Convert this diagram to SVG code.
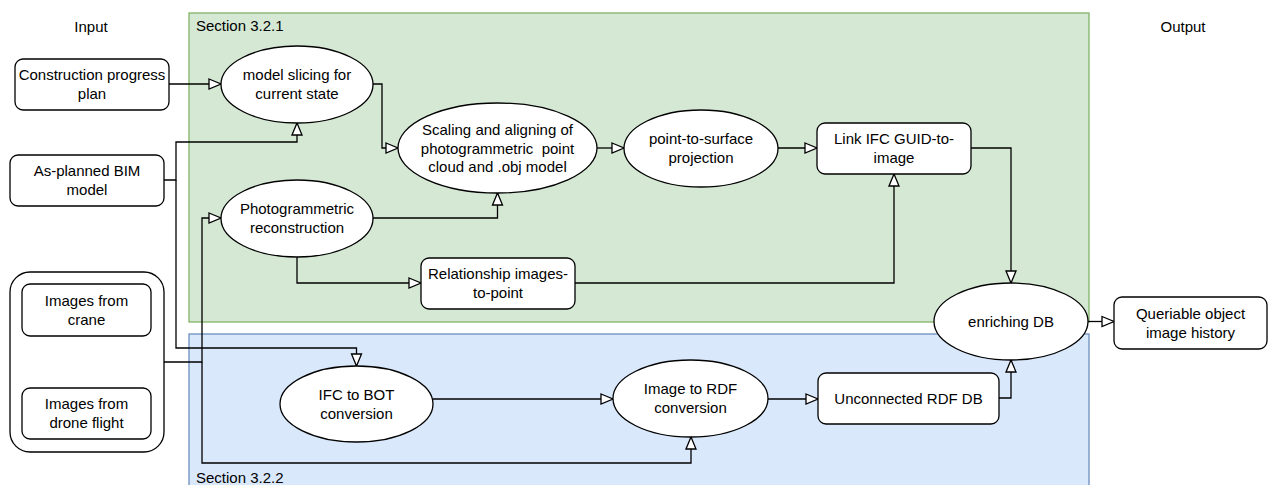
<svg xmlns="http://www.w3.org/2000/svg" width="1268" height="485" viewBox="0 0 1268 485">
<style>
text{font-family:"Liberation Sans",Arial,sans-serif;font-size:15px;fill:#000;text-anchor:middle}
.lbl{text-anchor:start}
.box{fill:#fff;stroke:#000;stroke-width:1.3}
.edge{fill:none;stroke:#000;stroke-width:1.3;marker-end:url(#arr)}
</style>
<defs>
<marker id="arr" markerUnits="userSpaceOnUse" markerWidth="16" markerHeight="14" refX="13" refY="6" orient="auto" viewBox="-1 -1 16 14">
<path d="M1,1 L13,6 L1,11 Z" fill="#fff" stroke="#000" stroke-width="1.3"/>
</marker>
</defs>
<rect width="1268" height="485" fill="#fff"/>
<g id="section321">
<rect x="189" y="13" width="900" height="309" fill="#d5e8d4" stroke="#82b366" stroke-width="1.3"/>
<text class="lbl" x="196" y="31">Section 3.2.1</text>
</g>
<g id="section322">
<rect x="189" y="334" width="900" height="160" fill="#dae8fc" stroke="#6c8ebf" stroke-width="1.3"/>
<text class="lbl" x="196" y="483">Section 3.2.2</text>
</g>
<text x="91" y="32">Input</text>
<text x="1183" y="32">Output</text>
<g id="connectors">
<path class="edge" d="M169,84 H221"/>
<path class="edge" d="M164,180 H176 V142 H297 V123"/>
<path class="edge" d="M176,180 V348 H356.5 V366"/>
<path class="edge" d="M164,362 H202 V218 H221"/>
<path class="edge" d="M202,362 V463 H691 V437"/>
<path class="edge" d="M373,84 H382 V148 H398"/>
<path class="edge" d="M373,218 H497.5 V193"/>
<path class="edge" d="M297,257 V283 H421"/>
<path class="edge" d="M597,148 H624"/>
<path class="edge" d="M778,148 H817"/>
<path class="edge" d="M575,283 H894 V174"/>
<path class="edge" d="M971,148 H1011 V283"/>
<path class="edge" d="M999,398 H1011 V360"/>
<path class="edge" d="M1088,321.5 H1114"/>
<path class="edge" d="M433,399 H613"/>
<path class="edge" d="M768,399 H818"/>
</g>
<g id="construction-plan">
<rect class="box" x="15" y="59" width="154" height="51" rx="8"/>
<text x="92" y="80">Construction progress</text>
<text x="92" y="99">plan</text>
</g>
<g id="bim-model">
<rect class="box" x="10" y="155" width="154" height="51" rx="8"/>
<text x="87" y="176">As-planned BIM</text>
<text x="87" y="195">model</text>
</g>
<g id="images-group">
<rect class="box" x="10" y="272" width="154" height="180" rx="20"/>
</g>
<g id="images-crane">
<rect class="box" x="22" y="284" width="129" height="52" rx="8"/>
<text x="86.5" y="306">Images from</text>
<text x="86.5" y="325">crane</text>
</g>
<g id="images-drone">
<rect class="box" x="22" y="388" width="129" height="51" rx="8"/>
<text x="86.5" y="409">Images from</text>
<text x="86.5" y="428">drone flight</text>
</g>
<g id="model-slicing">
<ellipse class="box" cx="297" cy="84.5" rx="76" ry="38.5"/>
<text x="297" y="80">model slicing for</text>
<text x="297" y="99">current state</text>
</g>
<g id="photogrammetric">
<ellipse class="box" cx="297" cy="218.5" rx="76" ry="38.5"/>
<text x="297" y="214">Photogrammetric</text>
<text x="297" y="233">reconstruction</text>
</g>
<g id="scaling">
<ellipse class="box" cx="497.5" cy="148" rx="99.5" ry="45"/>
<text x="497.5" y="135">Scaling and aligning of</text>
<text x="497.5" y="153.5" xml:space="preserve">photogrammetric  point</text>
<text x="497.5" y="172">cloud and .obj model</text>
</g>
<g id="point-to-surface">
<ellipse class="box" cx="701" cy="148.5" rx="77" ry="38.5"/>
<text x="701" y="144">point-to-surface</text>
<text x="701" y="163">projection</text>
</g>
<g id="link-ifc">
<rect class="box" x="817" y="123" width="154" height="51" rx="8"/>
<text x="894" y="144">Link IFC GUID-to-</text>
<text x="894" y="163">image</text>
</g>
<g id="relationship">
<rect class="box" x="421" y="258" width="154" height="51" rx="8"/>
<text x="498" y="279">Relationship images-</text>
<text x="498" y="298">to-point</text>
</g>
<g id="enriching-db">
<ellipse class="box" cx="1011" cy="321.5" rx="77" ry="38.5"/>
<text x="1011" y="327">enriching DB</text>
</g>
<g id="queriable">
<rect class="box" x="1114" y="297" width="153" height="52" rx="8"/>
<text x="1190.5" y="319">Queriable object</text>
<text x="1190.5" y="338">image history</text>
</g>
<g id="ifc-to-bot">
<ellipse class="box" cx="356.5" cy="404" rx="76.5" ry="38"/>
<text x="356.5" y="400">IFC to BOT</text>
<text x="356.5" y="419">conversion</text>
</g>
<g id="image-to-rdf">
<ellipse class="box" cx="690.5" cy="398.5" rx="77.5" ry="38.5"/>
<text x="690.5" y="394">Image to RDF</text>
<text x="690.5" y="413">conversion</text>
</g>
<g id="unconnected-rdf">
<rect class="box" x="818" y="373" width="181" height="51" rx="8"/>
<text x="908.5" y="404">Unconnected RDF DB</text>
</g>
</svg>
